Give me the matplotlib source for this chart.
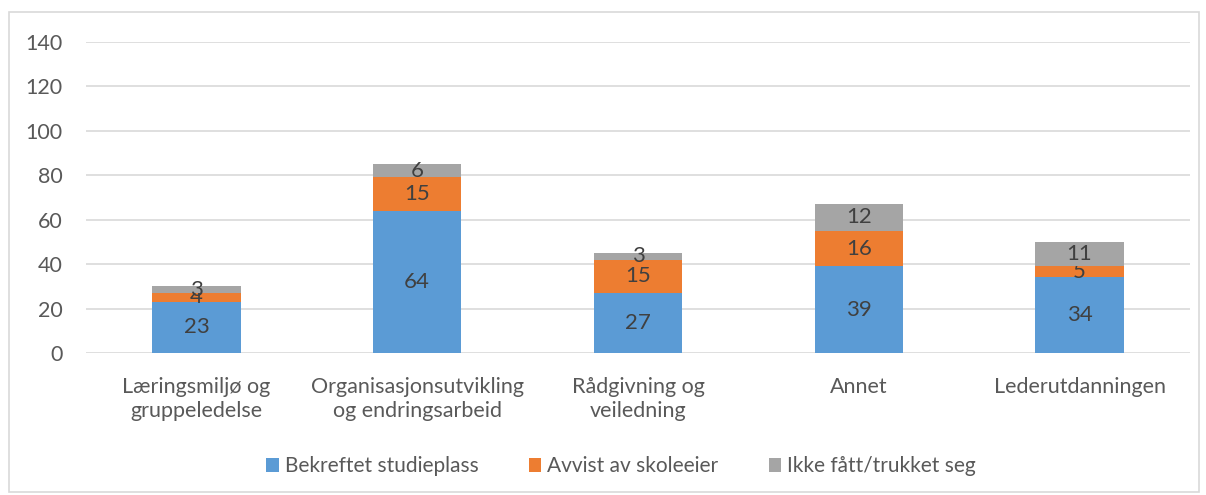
import numpy as np
import matplotlib.pyplot as plt
from matplotlib.patches import Rectangle

plt.rcParams['font.family'] = ['Lato', 'DejaVu Sans']

# data:
# -----
categories = ['Læringsmiljø og\ngruppeledelse', 'Organisasjonsutvikling\nog endringsarbeid',
              'Rådgivning og\nveiledning', 'Annet', 'Lederutdanningen']
bekreftet = [23, 64, 27, 39, 34]
avvist = [4, 15, 15, 16, 5]
ikke_fatt = [3, 6, 3, 12, 11]
series_names = ['Bekreftet studieplass', 'Avvist av skoleeier', 'Ikke fått/trukket seg']
colors = ['#5B9BD5', '#ED7D31', '#A5A5A5']

fig = plt.figure(figsize=(12.06, 4.95), dpi=100)
ax = fig.add_axes([0.0713, 0.2869, 0.9154, 0.6283])

# figure border
fig.patches.append(Rectangle((9/1206, 3/495), 1190/1206, 480/495, transform=fig.transFigure,
                             fill=False, edgecolor='#D9D9D9', linewidth=1.2))

x = np.arange(len(categories))
bottom = np.zeros(len(categories))
for vals, name, col in zip([bekreftet, avvist, ikke_fatt], series_names, colors):
    bars = ax.bar(x, vals, 0.4, bottom=bottom, color=col, label=name, zorder=3)
    ax.bar_label(bars, labels=[str(v) for v in vals], label_type='center',
                 fontsize=16, color='#404040')
    bottom = bottom + np.array(vals)

ax.set_xlim(-0.5, len(categories) - 0.5)
ax.set_ylim(0, 140)
ax.set_yticks(range(0, 141, 20))
ax.set_xticks(x)
ax.set_xticklabels(categories, fontsize=15.5, color='#595959', linespacing=1.3)
ax.tick_params(axis='y', labelsize=15.5, colors='#595959', length=0, pad=17)
ax.tick_params(axis='x', length=0, pad=17)
ax.grid(axis='y', color='#D9D9D9', linewidth=1.2, zorder=0)
for s in ax.spines.values():
    s.set_visible(False)

fig.legend(loc='center', bbox_to_anchor=(0.515, 0.058), ncol=3, frameon=False,
           fontsize=15, handlelength=0.6, handleheight=0.6, handletextpad=0.3,
           columnspacing=2.4, labelcolor='#595959')

fig.savefig('out.png', dpi=100)
